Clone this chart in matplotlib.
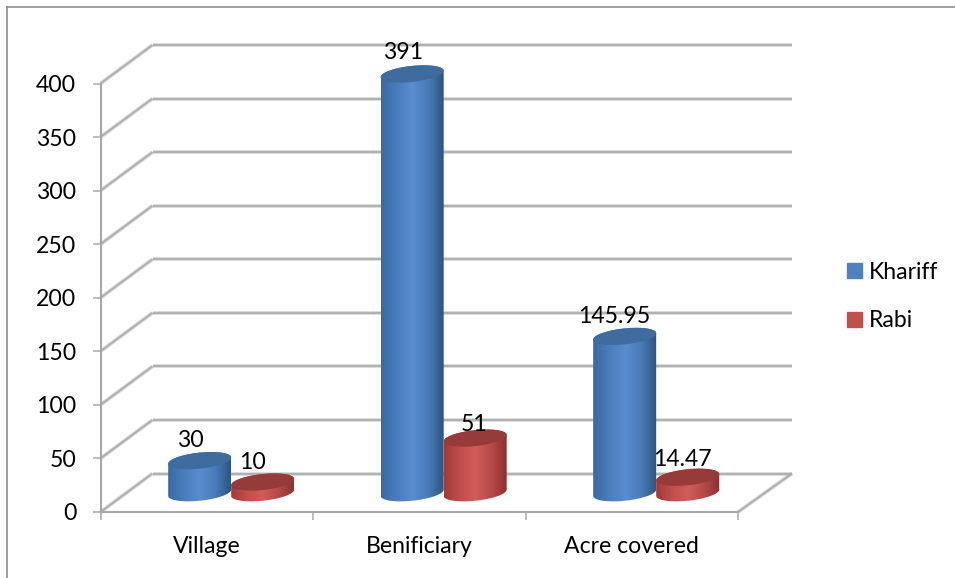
import matplotlib
matplotlib.use("Agg")
import matplotlib.pyplot as plt
from matplotlib.colors import LinearSegmentedColormap
from matplotlib.lines import Line2D
from matplotlib.patches import Patch, PathPatch
from matplotlib.path import Path
import numpy as np

categorias = ['Village', 'Benificiary', 'Acre covered']
kharif = [30, 391, 145.95]
rabi = [10, 51, 14.47]
kharif_txt = ['30', '391', '145.95']
rabi_txt = ['10', '51', '14.47']
yticks = [0, 50, 100, 150, 200, 250, 300, 350, 400]

# ajuste a mano de las etiquetas (px)
kharif_nudge = [(-9, 20), (-9, 21), (-10, 20)]
rabi_nudge = [(-10, 20), (-1, 14), (-5, 18)]

plt.rcParams['font.family'] = ['Lato', 'DejaVu Sans']
W, H = 955, 578
fig = plt.figure(figsize=(W / 100, H / 100), dpi=100)
ax = fig.add_axes([100.5 / W, (H - 512) / H, 637.5 / W, 428.5 / H])
ax.set_xlim(0, 3)
ax.set_ylim(0, 400)

# px -> data
px_x = 3 / 637.5
px_y = 400 / 428.5
depth_x = 52 * px_x
depth_y = 38.5 * px_y
grid_col = '#adadad'
axis_col = '#a8a8a8'
txt_size = 16.6


def soft_line(xs, ys):
    # el original esta borroso: linea ancha clara + linea fina
    ax.plot(xs, ys, color=grid_col, lw=2.8, alpha=0.45, clip_on=False, zorder=1, solid_capstyle='butt')
    ax.plot(xs, ys, color=grid_col, lw=1.3, clip_on=False, zorder=1, solid_capstyle='butt')


for v in yticks:
    soft_line([0, depth_x], [v, v + depth_y])
    soft_line([depth_x, 3 + depth_x + 2 * px_x], [v + depth_y, v + depth_y])
soft_line([3, 3 + depth_x + 2 * px_x], [0, depth_y])

cmap_blue = LinearSegmentedColormap.from_list('b', ['#3a6aa2', '#4a7dbc', '#5a8dd0', '#4a7cb8', '#2c5482'])
cmap_red = LinearSegmentedColormap.from_list('r', ['#a23a38', '#c04e4c', '#d25c5a', '#b64a48', '#8d302e'])
bar_w = 63 * px_x
half_h = 8 * px_y
tilt = 0.1 * px_y / px_x


def cylinder(cx, value, cmap, top_col):
    a = bar_w / 2
    base = depth_y * 0.5
    top = base + value
    t_low = np.linspace(np.pi, 2 * np.pi, 50)
    t_up = np.linspace(0, np.pi, 50)
    bx = cx + a * np.cos(t_low)
    by = base + half_h * np.sin(t_low) + tilt * a * np.cos(t_low)
    tx = cx + a * np.cos(t_up)
    ty = top + half_h * np.sin(t_up) + tilt * a * np.cos(t_up)
    body = np.column_stack([np.r_[bx, tx], np.r_[by, ty]])
    patch = PathPatch(Path(np.vstack([body, body[0]]), closed=True), transform=ax.transData)
    grad = np.atleast_2d(np.linspace(0, 1, 256))
    im = ax.imshow(grad, extent=[cx - a, cx + a, base - 20 * px_y, top + 20 * px_y],
                   aspect='auto', cmap=cmap, zorder=3, interpolation='bilinear')
    im.set_clip_box(fig.bbox)
    im.set_clip_path(patch)
    t = np.linspace(0, 2 * np.pi, 100)
    ax.fill(cx + a * np.cos(t), top + half_h * np.sin(t) + tilt * a * np.cos(t),
            color=top_col, zorder=4, clip_on=False, lw=0)


labels = []
for i in range(len(categorias)):
    group = i + 0.5 + depth_x * 0.47
    cylinder(group - bar_w / 2, kharif[i], cmap_blue, '#3f6b9e')
    cylinder(group + bar_w / 2, rabi[i], cmap_red, '#963b39')
    labels.append((group - bar_w / 2, kharif[i], kharif_txt[i], kharif_nudge[i]))
    labels.append((group + bar_w / 2, rabi[i], rabi_txt[i], rabi_nudge[i]))
ax.set_xlim(0, 3)
ax.set_ylim(0, 400)

# etiquetas de valor
for x, v, txt, nudge in labels:
    ax.annotate(txt, (x, v + depth_y * 0.5), xytext=(nudge[0] * 0.72, nudge[1] * 0.72), textcoords='offset points',
                ha='center', va='center', fontsize=txt_size, color='black', zorder=6, annotation_clip=False)

ax.set_xticks([0, 1, 2, 3])
ax.set_xticklabels([])
ax.set_xticks([0.5, 1.5, 2.5], minor=True)
ax.set_xticklabels(categorias, minor=True, fontsize=txt_size)
ax.set_yticks(yticks)
ax.tick_params(axis='x', which='major', length=5.5, width=1.1, color=axis_col)
ax.tick_params(axis='x', which='minor', length=0, pad=17)
ax.tick_params(axis='y', length=5.5, width=1.1, color=axis_col, labelsize=txt_size, pad=12)
for s in ['top', 'right']:
    ax.spines[s].set_visible(False)
for s in ['left', 'bottom']:
    ax.spines[s].set_color(axis_col)
    ax.spines[s].set_linewidth(1.5)
ax.patch.set_visible(False)

handles = [Patch(color='#4f81bd', label='Khariff'), Patch(color='#c0504d', label='Rabi')]
ax.legend(handles=handles, loc='upper left', bbox_to_anchor=(826 / W, 1 - 241 / H),
          bbox_transform=fig.transFigure, frameon=False, fontsize=txt_size,
          handlelength=0.65, handleheight=0.65, handletextpad=0.33, labelspacing=1.2)

# marco gris
fig.add_artist(Line2D([7 / W, 7 / W], [0, 1 - 7 / H], color='#868686', lw=1.1))
fig.add_artist(Line2D([7 / W, 1], [1 - 7 / H, 1 - 7 / H], color='#868686', lw=1.1))

fig.savefig('out.png', dpi=100)
